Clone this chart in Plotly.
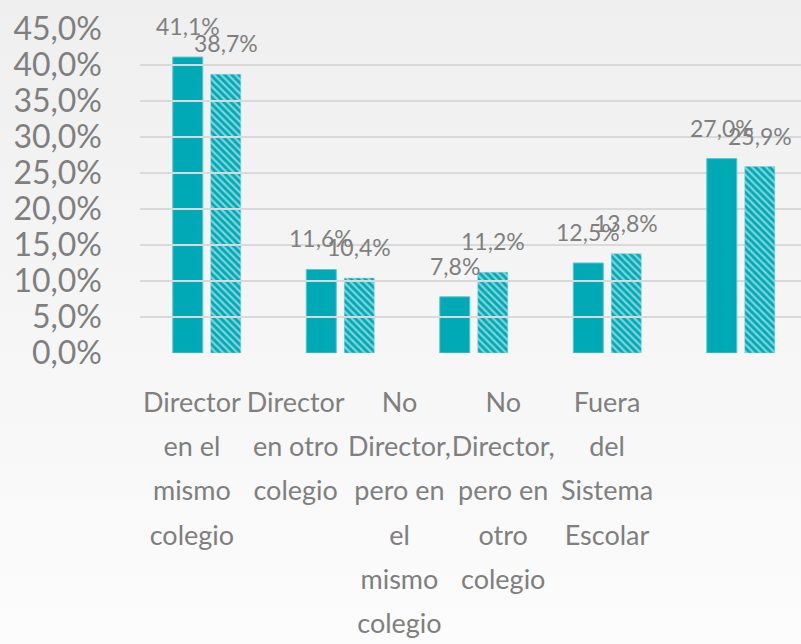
import plotly.graph_objects as go

categories = [["Director", "en el", "mismo", "colegio"],
              ["Director", "en otro", "colegio"],
              ["No", "Director,", "pero en", "el", "mismo", "colegio"],
              ["No", "Director,", "pero en", "otro", "colegio"],
              ["Fuera", "del", "Sistema", "Escolar"]]
serie_a = [41.1, 11.6, 7.8, 12.5, 27.0]
serie_b = [38.7, 10.4, 11.2, 13.8, 25.9]
y_ticks = [0, 5, 10, 15, 20, 25, 30, 35, 40, 45]

TEAL = "#00a9b6"
GRAY = "#7f7f7f"
FONT = "Lato"

def fmt(v):
    return f"{v:.1f}".replace(".", ",") + "%"

def label(lines):
    return "<br>".join(f"<span style='font-size:27px'>{t}</span>" for t in lines)

idx = list(range(len(categories)))

fig = go.Figure()
fig.add_trace(go.Bar(x=idx, y=serie_a, marker=dict(color=TEAL, line=dict(color="#5cc6ce", width=1)),
                     hoverinfo="skip", showlegend=False))
fig.add_trace(go.Bar(x=idx, y=serie_b,
                     marker=dict(color=TEAL, line=dict(color="#7fd2d8", width=0.5),
                                 pattern=dict(shape="\\", fillmode="overlay", fgcolor="white",
                                              size=5, solidity=0.45)),
                     hoverinfo="skip", showlegend=False))
# invisible trace for the category label axis
fig.add_trace(go.Scatter(x=idx, y=[0]*len(idx), xaxis="x2", mode="markers",
                         marker=dict(opacity=0), hoverinfo="skip", showlegend=False))

for i in idx:
    fig.add_annotation(x=i, y=serie_a[i], text=fmt(serie_a[i]), showarrow=False,
                       xshift=-19, yshift=15, yanchor="bottom",
                       font=dict(family=FONT, size=23, color=GRAY))
    fig.add_annotation(x=i, y=serie_b[i], text=fmt(serie_b[i]), showarrow=False,
                       xshift=19, yshift=15, yanchor="bottom",
                       font=dict(family=FONT, size=23, color=GRAY))

grad = ("data:image/svg+xml;utf8,<svg xmlns='http://www.w3.org/2000/svg' width='10' height='100' "
        "preserveAspectRatio='none'><defs><linearGradient id='g' x1='0' y1='0' x2='0' y2='1'>"
        "<stop offset='0' stop-color='%23efefef'/><stop offset='1' stop-color='%23fcfcfc'/>"
        "</linearGradient></defs><rect width='10' height='100' fill='url(%23g)'/></svg>")

fig.update_layout(
    width=801, height=644, autosize=False,
    margin=dict(l=140, r=0, t=29, b=291),
    paper_bgcolor="#f5f5f5", plot_bgcolor="rgba(0,0,0,0)",
    barmode="group", bargap=0.431, bargroupgap=0.21,
    images=[dict(source=grad, xref="paper", yref="paper", x=-140/661, y=1+29/324,
                 sizex=801/661, sizey=644/324, sizing="stretch", layer="below",
                 xanchor="left", yanchor="top")],
    xaxis=dict(range=[-0.5, 4.451], showticklabels=False, showgrid=False, zeroline=False,
               domain=[0, 1], fixedrange=True),
    xaxis2=dict(anchor="y", domain=[0, 0.785], range=[-0.5, 4.5], tickangle=0,
                tickmode="array", tickvals=idx, ticktext=[label(c) for c in categories],
                showgrid=False, zeroline=False, ticks="", ticklabelstandoff=24,
                tickfont=dict(family=FONT, size=34, color=GRAY), side="bottom"),
    yaxis=dict(range=[0, 45], tickmode="array", tickvals=y_ticks,
               ticktext=[fmt(v) for v in y_ticks], showgrid=True, gridcolor="#d9d9d9",
               gridwidth=1.5, zeroline=False, ticks="", ticklabelstandoff=37,
               tickfont=dict(family=FONT, size=32, color=GRAY)),
)

fig.write_html("out.html", config={"displayModeBar": False, "responsive": False},
               post_script="document.documentElement.style.overflow='hidden';"
                           "document.body.style.overflow='hidden';"
                           "document.body.style.margin='0';")
